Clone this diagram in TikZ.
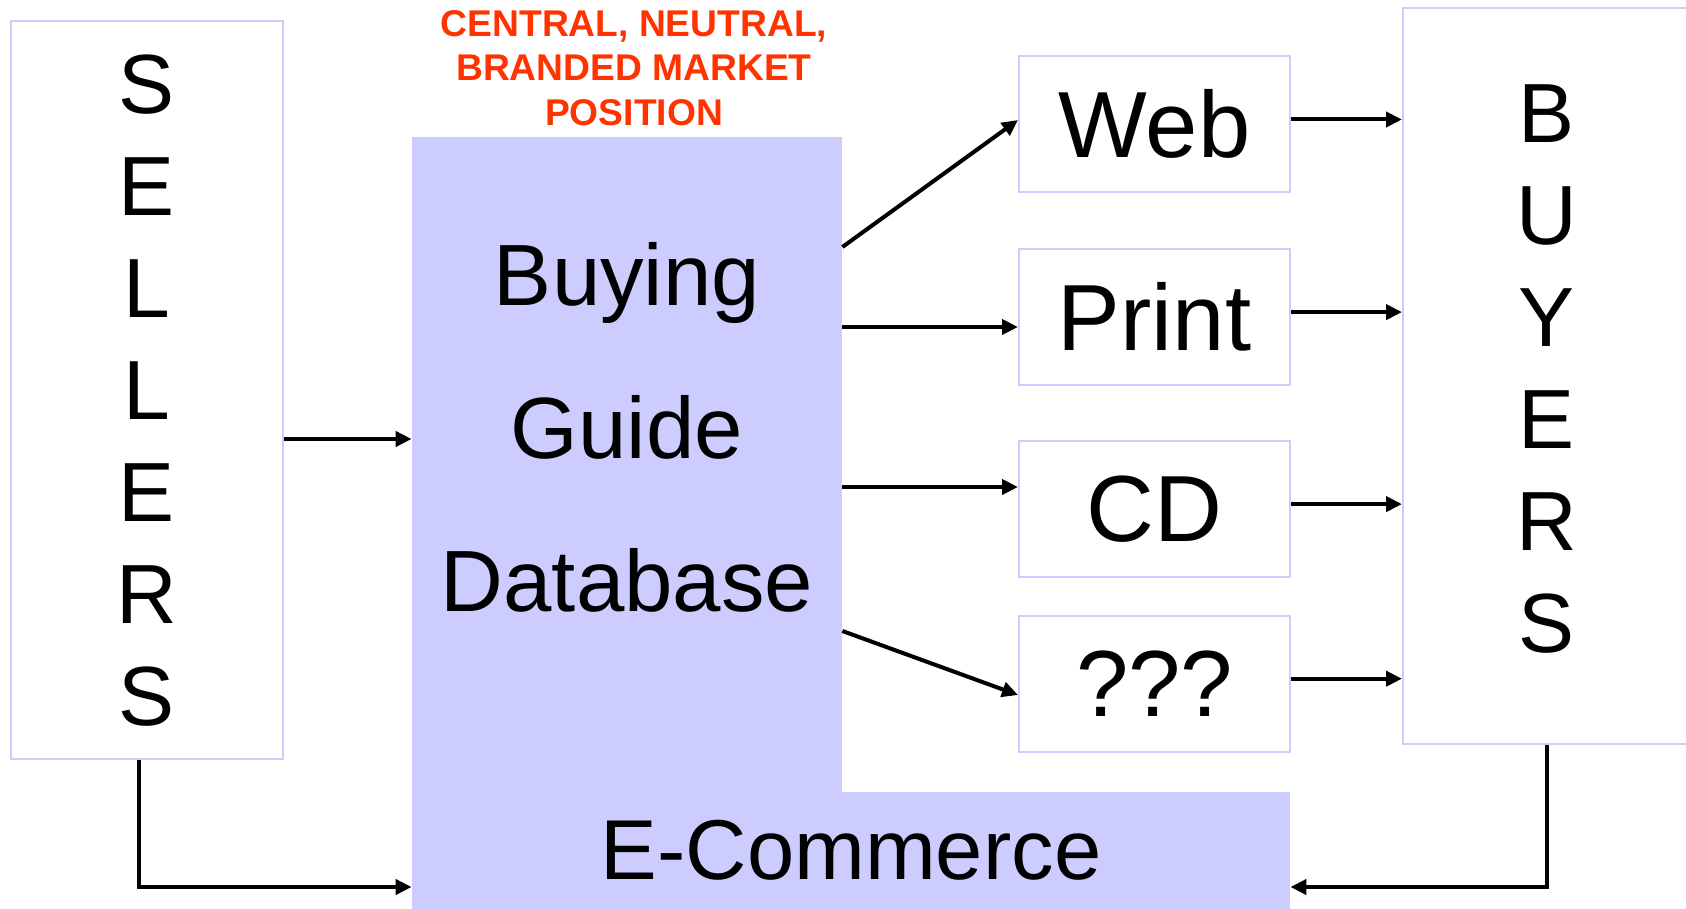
\documentclass[tikz,border=0pt]{standalone}
\usepackage{fontspec}
\setmainfont{Liberation Sans}
\usetikzlibrary{positioning,arrows.meta}
\definecolor{lav}{HTML}{CCCCFF}
\definecolor{brand}{HTML}{FF3300}

\begin{document}
\begin{tikzpicture}[
  x=0.5pt, y=-0.5pt,
  box/.style={draw=lav, line width=1pt, fill=white, inner sep=0pt},
  chan/.style={box, minimum width=135.5pt, minimum height=68pt,
               font=\fontsize{47}{56}\selectfont},
  side/.style={box, align=center, font=\fontsize{42}{51}\selectfont},
  core/.style={fill=lav, inner sep=0pt},
  arr/.style={-{Triangle[length=8pt,width=7.5pt]}, line width=2pt}]

\useasboundingbox (0,0) rectangle (1686,909);

% sellers and buyers columns
\node[side, minimum width=136pt, minimum height=369pt] (sellers) at (146.8,390.3)
  {S\\E\\L\\L\\E\\R\\S};
\node[side, minimum width=143.5pt, minimum height=368pt, text depth=7.5pt] (buyers)
  at (1546.5,376.3) {B\\U\\Y\\E\\R\\S};

% central database and e-commerce strip
\node[core, minimum width=215pt, minimum height=386.2pt] (db) at (627,522.8) {};
\node[core, minimum width=439pt, minimum height=58.5pt,
      font=\fontsize{42.5}{50}\selectfont] (ecom) at (851,850.5) {E-Commerce};
\node[inner sep=0pt, align=center, font=\fontsize{43.5}{76.6}\selectfont] (dbtext)
  at (627,427.5) {Buying\\Guide\\Database};
\node[inner sep=0pt, align=center, text=brand, font=\bfseries\fontsize{18.6}{22.3}\selectfont,
      above=5pt of db, xshift=3.5pt] (brand) {CENTRAL, NEUTRAL,\\BRANDED MARKET\\POSITION};

% output channels
\node[chan] (web) at (1154.5,124.3) {Web};
\node[chan, below=27.3pt of web] (print) {Print};
\node[chan, below=27pt of print] (cd) {CD};
\node[chan, below=18.3pt of cd] (other) {???};

% edges
\draw[arr] (sellers.east |- 0,439) -- (db.west |- 0,439);
\draw[arr] (db.east |- 0,247) -- (web.west |- 0,120);
\draw[arr] (db.east |- 0,327) -- (print.west |- 0,327);
\draw[arr] (db.east |- 0,487) -- (cd.west |- 0,487);
\draw[arr] (db.east |- 0,631) -- (other.west |- 0,695);
\foreach \c in {web,print,cd,other}
  \draw[arr] ([yshift=2.4pt]\c.east) -- ([yshift=2.4pt]\c.east -| buyers.west);
\draw[arr] ([xshift=-3.8pt]sellers.south) |- (ecom.west |- 0,887);
\draw[arr] (buyers.south) |- (ecom.east |- 0,887);
\end{tikzpicture}
\end{document}
